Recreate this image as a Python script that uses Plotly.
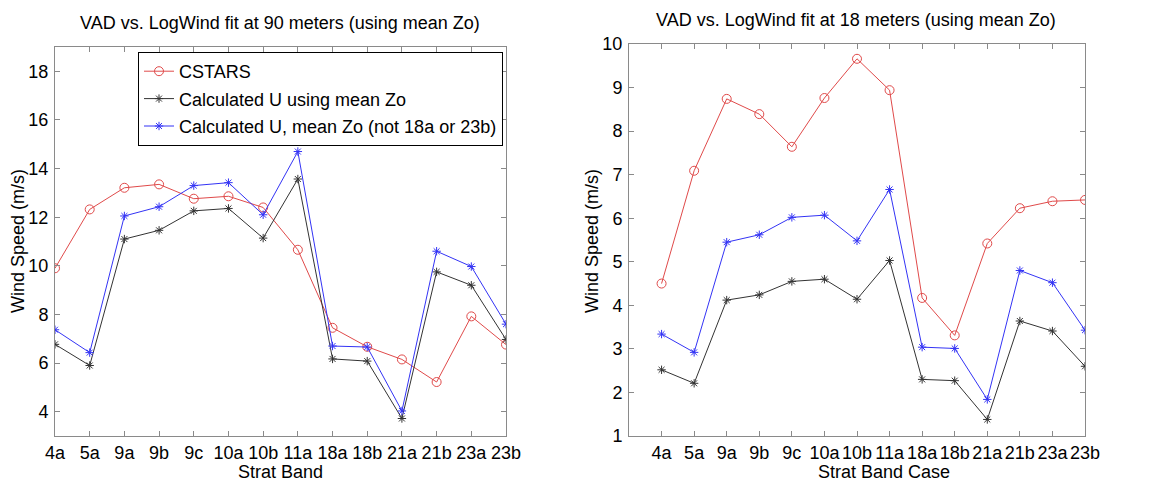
import plotly.graph_objects as go

# Strat band cases (x categories)
cases = ["4a", "5a", "9a", "9b", "9c", "10a", "10b", "11a",
         "18a", "18b", "21a", "21b", "23a", "23b"]

# 90 m comparison (m/s)
cstars_90 = [9.9, 12.32, 13.21, 13.35, 12.76, 12.86, 12.4, 10.66,
             7.45, 6.67, 6.15, 5.22, 7.92, 6.76]
calc_90 = [6.77, 5.9, 11.1, 11.46, 12.26, 12.36, 11.14, 13.57,
           6.17, 6.08, 3.72, 9.75, 9.2, 6.97]
calc_sub_90 = [7.37, 6.43, 12.05, 12.43, 13.3, 13.42, 12.1, 14.7,
               6.7, 6.66, 4.03, 10.6, 9.97, 7.6]

# 18 m comparison (m/s)
cstars_18 = [4.5, 7.09, 8.74, 8.39, 7.64, 8.76, 9.66, 8.94,
             4.17, 3.31, 5.42, 6.23, 6.39, 6.42]
calc_18 = [2.52, 2.21, 4.12, 4.24, 4.55, 4.6, 4.14, 5.03,
           2.3, 2.27, 1.38, 3.64, 3.41, 2.6]
calc_sub_18 = [3.34, 2.92, 5.45, 5.62, 6.02, 6.07, 5.48, 6.66,
               3.04, 3.01, 1.84, 4.8, 4.52, 3.43]

names = ["CSTARS", "Calculated U using mean Zo",
         "Calculated U, mean Zo (not 18a or 23b)"]

RED = "#e04a4a"
BLACK = "#333333"
BLUE = "#3333f5"
AXIS = "#8a8a8a"
FONT = "Liberation Sans, Arial, sans-serif"
FS = 18

W, H = 1155, 486
xpos = list(range(1, len(cases) + 1))

styles = [
    dict(color=RED, symbol="circle-open", size=9),
    dict(color=BLACK, symbol="asterisk-open", size=7),
    dict(color=BLUE, symbol="asterisk-open", size=7),
]

fig = go.Figure()

for series, xa, ya, show in [
    ((cstars_90, calc_90, calc_sub_90), "x", "y", True),
    ((cstars_18, calc_18, calc_sub_18), "x2", "y2", False),
]:
    for i, (vals, name, st) in enumerate(zip(series, names, styles)):
        fig.add_trace(go.Scatter(
            x=xpos, y=vals, name=name, xaxis=xa, yaxis=ya,
            mode="lines+markers", showlegend=show, legendgroup=f"g{i}",
            line=dict(color=st["color"], width=1),
            marker=dict(symbol=st["symbol"], size=st["size"],
                        color=st["color"], line=dict(color=st["color"], width=1)),
        ))


def px_x(p):
    return p / W


def px_y(p):
    return 1 - p / H


common_axis = dict(
    showline=True, linecolor=AXIS, linewidth=1, mirror="ticks",
    ticks="inside", ticklen=5, tickcolor=AXIS, showgrid=False,
    zeroline=False, automargin=False,
    tickfont=dict(family=FONT, size=FS, color="black"),
)

fig.update_layout(
    template="none",
    width=W, height=H,
    margin=dict(l=0, r=0, t=0, b=0, pad=0),
    paper_bgcolor="white", plot_bgcolor="white",
    font=dict(family=FONT, size=FS, color="black"),
    xaxis=dict(domain=[px_x(55), px_x(506)], range=[1, 14],
               tickvals=xpos, ticktext=cases, anchor="y", **common_axis),
    yaxis=dict(domain=[px_y(436), px_y(47)], range=[3, 19],
               tickvals=[4, 6, 8, 10, 12, 14, 16, 18], anchor="x",
               ticklabelstandoff=2, **common_axis),
    xaxis2=dict(domain=[px_x(629), px_x(1085)], range=[0, 14],
                tickvals=xpos, ticktext=cases, anchor="y2", **common_axis),
    yaxis2=dict(domain=[px_y(436), px_y(44)], range=[1, 10],
                tickvals=list(range(1, 11)), anchor="x2",
                ticklabelstandoff=2, **common_axis),
    legend=dict(
        x=px_x(138), y=px_y(52), xanchor="left", yanchor="top",
        bgcolor="white", bordercolor="black", borderwidth=1,
        font=dict(family=FONT, size=FS, color="black"),
        itemwidth=30, tracegroupgap=1,
    ),
    showlegend=True,
)

annotations = [
    dict(text="VAD vs. LogWind fit at 90 meters (using mean Zo)", x=280, y=23),
    dict(text="VAD vs. LogWind fit at 18 meters (using mean Zo)", x=856, y=20),
    dict(text="Strat Band", x=280, y=472),
    dict(text="Strat Band Case", x=884, y=472),
    dict(text="Wind Speed (m/s)", x=18, y=241, textangle=-90),
    dict(text="Wind Speed (m/s)", x=592, y=241, textangle=-90),
]
for a in annotations:
    fig.add_annotation(
        text=a["text"], x=px_x(a["x"]), y=px_y(a["y"]),
        xref="paper", yref="paper", xanchor="center", yanchor="middle",
        showarrow=False, textangle=a.get("textangle", 0),
        font=dict(family=FONT, size=FS, color="black"),
    )

fig.write_html("out.html")
